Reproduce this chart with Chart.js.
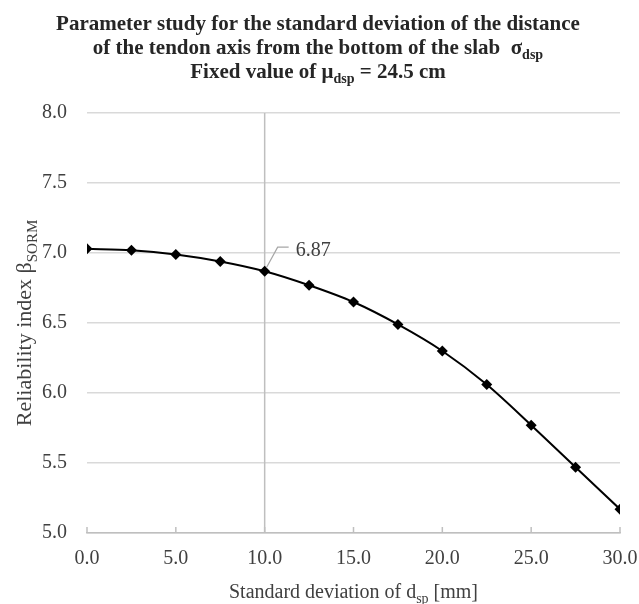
<!DOCTYPE html>
<html>
<head>
<meta charset="utf-8">
<script src="https://cdn.jsdelivr.net/npm/chart.js@4.4.0/dist/chart.umd.min.js"></script>
<style>
  html, body { margin: 0; padding: 0; background: #fff; }
  #wrap { width: 639px; height: 604px; }
</style>
</head>
<body>
<div id="wrap"><canvas id="myChart" width="639" height="604"></canvas></div>
<script>
// data
const sigmaDsp = [0, 2.5, 5, 7.5, 10, 12.5, 15, 17.5, 20, 22.5, 25, 27.5, 30];
const betaSorm = [7.03, 7.02, 6.99, 6.94, 6.87, 6.77, 6.65, 6.49, 6.30, 6.06, 5.77, 5.47, 5.17];
const markerX = 10;
const labelIndex = 4;

const serif = "'Liberation Serif', 'Times New Roman', serif";
const textGrey = '#404040';

// draws text with subscripts: parts = [[text, isSub], ...]
function richText(ctx, parts, x, y, size, bold, align) {
  const main = (bold ? 'bold ' : '') + size + 'px ' + serif;
  const sub = (bold ? 'bold ' : '') + Math.round(size * 0.68) + 'px ' + serif;
  let total = 0;
  parts.forEach(p => { ctx.font = p[1] ? sub : main; total += ctx.measureText(p[0]).width; });
  let cx = align === 'center' ? x - total / 2 : x;
  ctx.textAlign = 'left';
  ctx.textBaseline = 'alphabetic';
  parts.forEach(p => {
    ctx.font = p[1] ? sub : main;
    ctx.fillText(p[0], cx, p[1] ? y + size * 0.25 : y);
    cx += ctx.measureText(p[0]).width;
  });
}

const extras = {
  id: 'extras',
  afterDraw(chart) {
    const ctx = chart.ctx;
    const xs = chart.scales.x;
    const area = chart.chartArea;
    ctx.save();

    // inside tick marks on the x axis
    ctx.strokeStyle = '#bfbfbf';
    ctx.lineWidth = 1.5;
    xs.ticks.forEach(t => {
      const px = xs.getPixelForValue(t.value);
      ctx.beginPath();
      ctx.moveTo(px, area.bottom);
      ctx.lineTo(px, area.bottom - 6);
      ctx.stroke();
    });

    // data label with leader line
    const pt = chart.getDatasetMeta(0).data[labelIndex];
    ctx.strokeStyle = '#a6a6a6';
    ctx.lineWidth = 1.2;
    ctx.beginPath();
    ctx.moveTo(pt.x + 2, pt.y - 4);
    ctx.lineTo(pt.x + 13, pt.y - 24);
    ctx.lineTo(pt.x + 24, pt.y - 24);
    ctx.stroke();
    ctx.fillStyle = textGrey;
    ctx.font = '20px ' + serif;
    ctx.textAlign = 'left';
    ctx.textBaseline = 'middle';
    ctx.fillText(betaSorm[labelIndex].toFixed(2), pt.x + 31, pt.y - 20);

    // title
    ctx.fillStyle = '#262626';
    richText(ctx, [['Parameter study for the standard deviation of the distance', false]], 318, 30, 21, true, 'center');
    richText(ctx, [['of the tendon axis from the bottom of the slab  \u03c3', false], ['dsp', true]], 318, 54, 21, true, 'center');
    richText(ctx, [['Fixed value of \u03bc', false], ['dsp', true], [' = 24.5 cm', false]], 318, 78, 21, true, 'center');

    // axis titles
    ctx.fillStyle = textGrey;
    richText(ctx, [['Standard deviation of d', false], ['sp', true], [' [mm]', false]], (area.left + area.right) / 2, 598, 20, false, 'center');
    ctx.translate(31, (area.top + area.bottom) / 2);
    ctx.rotate(-Math.PI / 2);
    richText(ctx, [['Reliability index \u03b2', false], ['SORM', true]], 0, 0, 22, false, 'center');
    ctx.restore();
  }
};

const ctx = document.getElementById('myChart').getContext('2d');
const myChart = new Chart(ctx, {
  type: 'line',
  data: {
    datasets: [{
      label: 'beta',
      data: sigmaDsp.map((s, i) => ({ x: s, y: betaSorm[i] })),
      borderColor: '#000',
      backgroundColor: '#000',
      borderWidth: 2,
      pointStyle: 'rectRot',
      pointRadius: 5.5,
      pointBorderWidth: 0,
      tension: 0.3,
      order: 1
    }, {
      label: 'marker',
      data: [{ x: markerX, y: 5 }, { x: markerX, y: 8 }],
      borderColor: '#bfbfbf',
      borderWidth: 1.5,
      pointRadius: 0,
      order: 2
    }]
  },
  options: {
    responsive: false,
    animation: false,
    devicePixelRatio: 1,
    layout: { padding: { left: 0, top: 113, right: 0, bottom: 0 } },
    plugins: { legend: { display: false }, title: { display: false }, tooltip: { enabled: false } },
    scales: {
      x: {
        type: 'linear',
        min: 0, max: 30,
        ticks: {
          stepSize: 5,
          padding: 14,
          color: textGrey,
          font: { family: serif, size: 20 },
          callback: v => v.toFixed(1)
        },
        grid: { drawOnChartArea: false, drawTicks: false },
        border: { color: '#bfbfbf', width: 1.5 },
        afterFit: s => { s.height = 71; s.paddingRight = 19; }
      },
      y: {
        min: 5, max: 8,
        ticks: {
          stepSize: 0.5,
          padding: 20,
          color: textGrey,
          font: { family: serif, size: 20 },
          callback: v => v.toFixed(1)
        },
        grid: { color: '#d9d9d9', lineWidth: 1.5, drawTicks: false },
        border: { display: false },
        afterFit: s => { s.width = 87; }
      }
    }
  },
  plugins: [extras]
});
</script>
</body>
</html>
